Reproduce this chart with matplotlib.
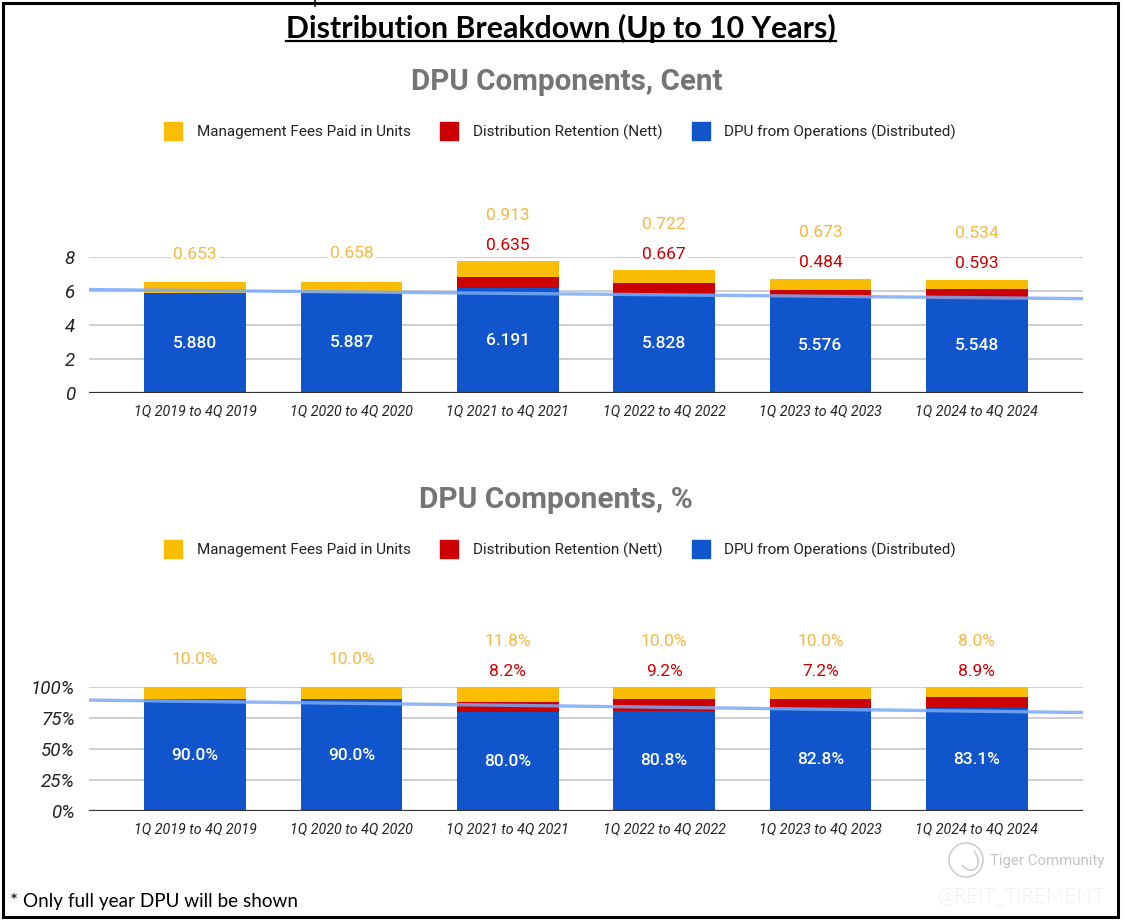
import numpy as np
import matplotlib
matplotlib.use("Agg")
import matplotlib.pyplot as plt
from matplotlib.lines import Line2D
from matplotlib.patches import Rectangle, Circle, Arc

# --- datos ---
periodos = ["1Q 2019 to 4Q 2019", "1Q 2020 to 4Q 2020", "1Q 2021 to 4Q 2021",
            "1Q 2022 to 4Q 2022", "1Q 2023 to 4Q 2023", "1Q 2024 to 4Q 2024"]
fees_cent = [0.653, 0.658, 0.913, 0.722, 0.673, 0.534]
retencion_cent = [0.0, 0.0, 0.635, 0.667, 0.484, 0.593]
operaciones_cent = [5.880, 5.887, 6.191, 5.828, 5.576, 5.548]

fees_pct = [10.0, 10.0, 11.8, 10.0, 10.0, 8.0]
retencion_pct = [0.0, 0.0, 8.2, 9.2, 7.2, 8.9]
operaciones_pct = [90.0, 90.0, 80.0, 80.8, 82.8, 83.1]

nombres = ["Management Fees Paid in Units", "Distribution Retention (Nett)",
           "DPU from Operations (Distributed)"]
ticks_cent = [0, 2, 4, 6, 8]
ticks_pct = [0, 25, 50, 75, 100]

AZUL = "#1155cc"
ROJO = "#cc0000"
AMARILLO = "#fbbc04"
TXT_AMARILLO = "#f5b942"
GRIS_TIT = "#757575"

W, H = 1126, 923
plt.rcParams['font.family'] = ['Roboto', 'DejaVu Sans']

fig = plt.figure(figsize=(W / 100, H / 100), dpi=100)


def caja(l, t, r, b):
    return [l / W, 1 - b / H, (r - l) / W, (b - t) / H]


def px(x, y):
    return x / W, 1 - y / H


def graficar(ax, ops, ret, fees, ticks, fmt, ymax, tickfmt):
    x = np.arange(len(periodos))
    ancho = 0.65
    ops = np.array(ops)
    ret = np.array(ret)
    fees = np.array(fees)
    ax.bar(x, ops, ancho, color=AZUL, zorder=2)
    ax.bar(x, ret, ancho, bottom=ops, color=ROJO, zorder=2)
    ax.bar(x, fees, ancho, bottom=ops + ret, color=AMARILLO, zorder=2)

    # recta de tendencia (regresion lineal de la serie azul)
    xlim = (-0.68, len(periodos) - 1 + 0.68)
    m, c = np.polyfit(x, ops, 1)
    xt = np.array(xlim)
    ax.plot(xt, m * xt + c, color="#7baaf7", lw=2.4, alpha=0.85, zorder=3,
            solid_capstyle="butt")

    for i in range(len(x)):
        tope = ops[i] + ret[i] + fees[i]
        ax.text(x[i], ops[i] / 2, fmt(ops[i]), color="white", ha="center",
                va="center", fontsize=12.5, fontweight="medium", zorder=4)
        bb = dict(fc="white", ec="none", pad=1.5)
        if ret[i] > 0:
            ax.annotate(fmt(ret[i]), (x[i], tope), xytext=(0, 11.5),
                        textcoords="offset points", ha="center", va="center",
                        color=ROJO, fontsize=12.5, bbox=bb, zorder=4)
            dy = 33
        else:
            dy = 20
        ax.annotate(fmt(fees[i]), (x[i], tope), xytext=(0, dy),
                    textcoords="offset points", ha="center", va="center",
                    color=TXT_AMARILLO, fontsize=12.5, bbox=bb, zorder=4)

    ax.set_xlim(*xlim)
    ax.set_ylim(0, ymax)
    ax.set_yticks(ticks)
    ax.set_yticklabels([tickfmt(t) for t in ticks], fontsize=13.5,
                       fontstyle="italic", color="#222222")
    ax.set_xticks(x)
    ax.set_xticklabels(periodos, fontsize=10.3, fontstyle="italic",
                       color="#222222")
    ax.tick_params(length=0)
    ax.tick_params(axis="y", pad=10)
    ax.tick_params(axis="x", pad=8)
    for s in ax.spines.values():
        s.set_visible(False)
    for t in ticks[1:]:
        ax.axhline(t, color="#cccccc", lw=1.3, zorder=1)
    ax.axhline(0, color="#333333", lw=1.6, zorder=3)
    ax.patch.set_alpha(0)


ax1 = fig.add_axes(caja(89, 257, 1083, 393))
graficar(ax1, operaciones_cent, retencion_cent, fees_cent, ticks_cent,
         lambda v: f"{v:.3f}", 8, lambda t: f"{t}")

ax2 = fig.add_axes(caja(89, 687, 1083, 811))
graficar(ax2, operaciones_pct, retencion_pct, fees_pct, ticks_pct,
         lambda v: f"{v:.1f}%", 100, lambda t: f"{t}%")

# leyendas
manijas = [Line2D([], [], marker="s", ls="none", markersize=13,
                  markerfacecolor=col, markeredgecolor=col)
           for col in (AMARILLO, ROJO, AZUL)]
for yl in (132, 550):
    fig.legend(manijas, nombres, loc="center", bbox_to_anchor=px(557, yl),
               ncol=3, frameon=False, fontsize=11, handletextpad=0.55,
               columnspacing=1.5, labelcolor="#222222")

# titulos
fig.text(*px(567, 82), "DPU Components, Cent", ha="center", va="center",
         fontsize=21.3, fontweight="bold", color=GRIS_TIT)
fig.text(*px(556, 500), "DPU Components, %", ha="center", va="center",
         fontsize=21.5, fontweight="bold", color=GRIS_TIT)
titulo = fig.text(*px(561, 28), "Distribution Breakdown (Up to 10 Years)",
                  ha="center", va="center", fontsize=21.8, fontweight="bold",
                  family=["Lato", "DejaVu Sans"], color="black")

fig.text(*px(10, 901), "* Only full year DPU will be shown", ha="left",
         va="center", fontsize=13.6, family=["Lato", "DejaVu Sans"],
         color="black")

# marca de agua
fig.text(*px(990, 861), "Tiger Community", ha="left", va="center",
         fontsize=10.8, color="#c4c4c4")
fig.text(*px(1105, 897), "@REIT_TIREMENT", ha="right", va="center",
         fontsize=15, fontweight="light", family=["Lato", "DejaVu Sans"],
         color="#c4c4c4")
fig.patches.append(Circle((966, H - 860), 17, transform=None, fill=False,
                          ec="#cfcfcf", lw=1.2))
fig.patches.append(Arc((968, H - 858), 18, 26, angle=30, theta1=200,
                       theta2=380, transform=None, ec="#cfcfcf", lw=1.2))

# marco
fig.patches.append(Rectangle((3, H - 917), 1115, 914, transform=None,
                             fill=False, ec="black", lw=2.2))
fig.lines.append(Line2D([315, 315], [H, H - 6], transform=None, color="black",
                        lw=1.2))

# subrayado del titulo
fig.canvas.draw()
bb = titulo.get_window_extent()
fig.lines.append(Line2D([bb.x0, bb.x1], [bb.y0 + 2, bb.y0 + 2],
                        transform=None, color="black", lw=1.6))

fig.savefig("out.png", dpi=100)
